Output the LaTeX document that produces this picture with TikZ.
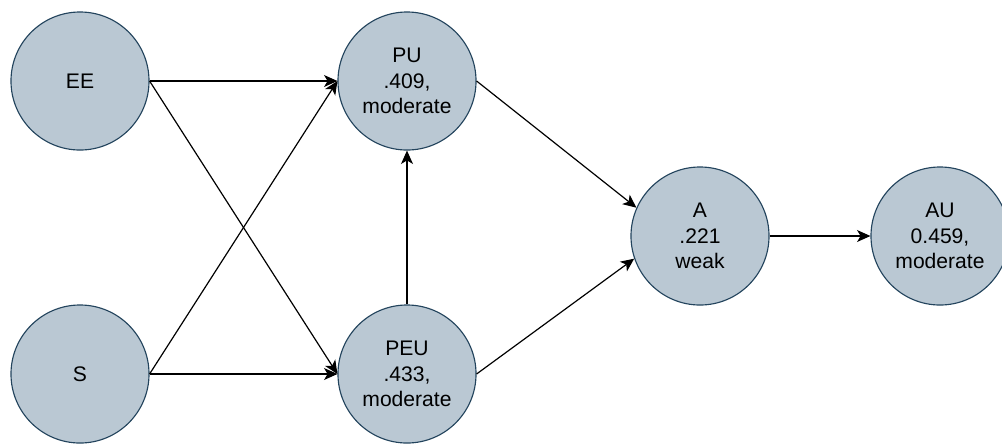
\documentclass[tikz,border=0pt]{standalone}
\usepackage{fontspec}
\setmainfont{Liberation Sans}
\usetikzlibrary{arrows.meta}
\definecolor{NodeClr}{RGB}{186,200,211}
\definecolor{BorderClr}{RGB}{35,68,93}

\tikzset{
  construct/.style={circle,draw=BorderClr,fill=NodeClr,line width=0.8pt,
    minimum size=3.45cm,inner sep=0pt,align=center,
    font=\fontsize{15}{18}\selectfont},
  path/.style={line width=0.85pt,-{Stealth[length=9.5pt,width=8.5pt,inset=2.5pt]}}
}

\begin{document}
\begin{tikzpicture}[x=0.025cm,y=-0.025cm]
\clip (0,0) rectangle (1002,443);

% constructs
\node[construct] (EE)  at (80,81)   {EE};
\node[construct] (S)   at (80,374)  {S};
\node[construct] (PU)  at (407,81)  {PU\\.409,\\moderate};
\node[construct] (PEU) at (407,374) {PEU\\.433,\\moderate};
\node[construct] (A)   at (700,236) {A\\.221\\weak};
\node[construct] (AU)  at (940,236) {AU\\0.459,\\moderate};

% paths
\draw[path] (EE.east) -- (PU.west);
\draw[path] (EE.east) -- (PEU.west);
\draw[path] (S.east) -- (PU.west);
\draw[path] (S.east) -- (PEU.west);
\draw[path] (PEU.north) -- (PU.south);
\draw[path] (PU.east) -- (A.156);
\draw[path] (PEU.east) -- (A.199);
\draw[path] (A.east) -- (AU.west);

\end{tikzpicture}
\end{document}
